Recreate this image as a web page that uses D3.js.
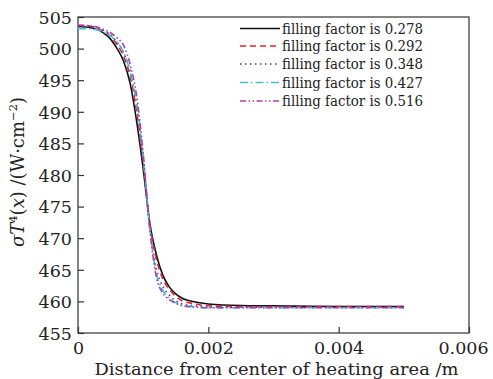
<!DOCTYPE html>
<html><head><meta charset="utf-8">
<script src="https://cdn.jsdelivr.net/npm/d3@7"></script>
<style>body{margin:0;background:#fff}svg{display:block}</style>
</head><body>
<svg id="c" width="493" height="379"></svg>
<script>
const xs = [0,0.0002,0.0004,0.0005,0.0006,0.0007,0.0008,0.0009,0.001,0.0011,0.0012,0.0013,0.0014,0.0015,0.0016,0.0018,0.002,0.0025,0.003,0.004,0.005];
const s278 = [503.5,503.3,502.4,501.5,500.0,498.0,494.5,488.5,481.0,472.5,467.5,464.2,462.3,461.2,460.5,459.9,459.6,459.35,459.3,459.2,459.2];
const s292 = [503.7,503.5,502.7,502.0,500.6,498.8,495.6,490.0,482.0,472.5,466.8,463.6,461.9,460.8,460.1,459.6,459.3,459.2,459.2,459.2,459.2];
const s348 = [503.6,503.5,502.8,502.2,501.0,499.3,496.5,491.0,482.5,472.0,465.3,462.4,461.0,460.1,459.6,459.3,459.1,459.1,459.1,459.1,459.1];
const s427 = [503.2,503.1,502.6,502.0,501.0,499.4,496.3,491.3,482.8,471.8,464.6,461.8,460.5,459.8,459.4,459.1,459.0,459.0,459.0,459.0,459.0];
const s516 = [503.7,503.6,503.0,502.5,501.7,500.5,497.5,492.5,483.5,471.5,464.0,461.3,460.3,459.7,459.3,459.1,459.0,459.0,459.0,459.0,459.0];
const seriesNames = ["filling factor is 0.278","filling factor is 0.292","filling factor is 0.348","filling factor is 0.427","filling factor is 0.516"];
const xTicks = [0,0.002,0.004,0.006];
const yTicks = [455,460,465,470,475,480,485,490,495,500,505];

const styles = [
  {color:"#111111", dash:null},
  {color:"#e8222e", dash:"6,4"},
  {color:"#2a45b0", dash:"1.5,3.5"},
  {color:"#3fc0d2", dash:"8,3,1.5,3"},
  {color:"#b03ea8", dash:"6,2.5,1.5,2.5,1.5,2.5"}
];
const allSeries = [s278,s292,s348,s427,s516];

const svg = d3.select("#c");
const L=78, R=469, T=17, B=333;
const x = d3.scaleLinear().domain([0,0.006]).range([L,R]);
const y = d3.scaleLinear().domain([455,505]).range([B,T]);
const font = "'DejaVu Serif', serif";

svg.append("rect").attr("x",L).attr("y",T).attr("width",R-L).attr("height",B-T)
  .attr("fill","none").attr("stroke","#333").attr("stroke-width",1.2);

const xAxis = svg.append("g").attr("transform",`translate(0,${B})`)
  .call(d3.axisBottom(x).tickValues(xTicks).tickSizeInner(-6).tickSizeOuter(0)
  .tickFormat(d=> d===0?"0":d3.format(".3f")(d)));
xAxis.select(".domain").remove();
xAxis.selectAll("line").attr("stroke","#333").attr("stroke-width",1.2);
xAxis.selectAll("text").attr("font-family",font).attr("font-size",17.5).attr("fill","#222")
  .attr("y",9).attr("dy","0.71em")
  .attr("dx",d=> d===0.006 ? -6 : 0);

const yAxis = svg.append("g").attr("transform",`translate(${L},0)`)
  .call(d3.axisLeft(y).tickValues(yTicks).tickSizeInner(-6).tickSizeOuter(0).tickFormat(d3.format("d")));
yAxis.select(".domain").remove();
yAxis.selectAll("line").attr("stroke","#333").attr("stroke-width",1.2);
yAxis.selectAll("text").attr("font-family",font).attr("font-size",17.5).attr("fill","#222").attr("x",-6).attr("dy","0.36em");

const line = d3.line().x((d,i)=>x(xs[i])).y(d=>y(d)).curve(d3.curveMonotoneX);
allSeries.forEach((s,k)=>{
  svg.append("path").attr("d",line(s)).attr("fill","none")
    .attr("stroke",styles[k].color).attr("stroke-width",1.6)
    .attr("stroke-dasharray",styles[k].dash);
});

const legY = [28.5,46,64,82.5,101];
seriesNames.forEach((n,k)=>{
  svg.append("line").attr("x1",240).attr("x2",280).attr("y1",legY[k]).attr("y2",legY[k])
    .attr("stroke",styles[k].color).attr("stroke-width",1.6).attr("stroke-dasharray",styles[k].dash);
  svg.append("text").attr("x",282).attr("y",legY[k]+5).attr("font-family",font).attr("font-size",14.5)
    .attr("fill","#222").attr("textLength",141).attr("lengthAdjust","spacingAndGlyphs").text(n);
});

svg.append("text").attr("x",(L+R)/2+3).attr("y",374.5).attr("text-anchor","middle")
  .attr("font-family",font).attr("font-size",17).attr("fill","#222")
  .attr("textLength",364).attr("lengthAdjust","spacingAndGlyphs")
  .text("Distance from center of heating area /m");

const yl = svg.append("text").attr("transform","translate(24,172) rotate(-90)").attr("text-anchor","middle")
  .attr("font-family",font).attr("font-size",18).attr("fill","#222");
yl.append("tspan").attr("font-style","italic").text("σT");
yl.append("tspan").attr("font-size",11.5).attr("dy",-7).text("4");
yl.append("tspan").attr("dy",7).text("(");
yl.append("tspan").attr("font-style","italic").text("x");
yl.append("tspan").text(") /(W·cm");
yl.append("tspan").attr("font-size",11.5).attr("dy",-7).text("−2");
yl.append("tspan").attr("dy",7).text(")");
</script>
</body></html>
